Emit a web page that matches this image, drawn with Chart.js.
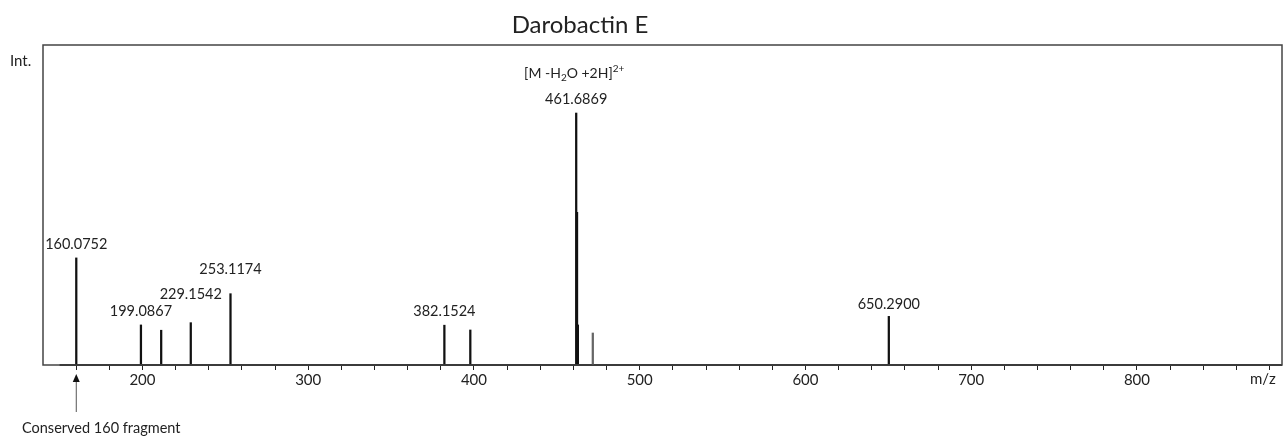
<!DOCTYPE html>
<html>
<head>
<meta charset="utf-8">
<title>Darobactin E</title>
<script src="https://cdn.jsdelivr.net/npm/chart.js@4/dist/chart.umd.min.js"></script>
<style>
    html, body { margin: 0; padding: 0; background: #fff; }
    #wrap { position: relative; width: 1287px; height: 436px; }
</style>
</head>
<body>
<div id="wrap"><canvas id="chart" width="1287" height="436"></canvas></div>
<script>
"use strict";

// MS/MS stick spectrum, intensities relative to the base peak
var peakMz = [160.0752, 199.0867, 211.3, 229.1542, 253.1174, 382.1524, 397.8, 461.6869, 462.19, 462.69, 471.7, 650.2900];
var peakInt = [42.5, 15.9, 13.8, 16.8, 28.3, 15.8, 13.9, 100, 60.6, 15.9, 12.7, 19.3];
var labelledMz = [160.0752, 199.0867, 229.1542, 253.1174, 382.1524, 461.6869, 650.2900];
var baselineMz = [150, 887.5];
var xMin = 140;
var xMax = 887.5;
var yMax = 127;
var xTickLabels = [200, 300, 400, 500, 600, 700, 800];

var font = "Lato, 'Open Sans', sans-serif";
var textColor = "#222";

var points = peakMz.map(function(m, i) {
    return {x: m, y: peakInt[i]};
});

// extra lift for labels that would otherwise collide
var labelLift = {"229.1542": 24, "253.1174": 20, "650.2900": 7};

var annotations = {
    id: "annotations",
    afterDatasetsDraw: function(chart) {
        var ctx = chart.ctx;
        var area = chart.chartArea;
        var xs = chart.scales.x;
        var ys = chart.scales.y;

        ctx.save();
        // plot frame
        ctx.strokeStyle = "#444";
        ctx.lineWidth = 1.5;
        ctx.strokeRect(area.left, area.top, area.right - area.left, area.bottom - area.top);

        // peak labels
        ctx.fillStyle = textColor;
        ctx.font = "14.5px " + font;
        ctx.textAlign = "center";
        ctx.textBaseline = "alphabetic";
        labelledMz.forEach(function(m) {
            var i = peakMz.indexOf(m);
            var px = xs.getPixelForValue(m);
            var py = ys.getPixelForValue(peakInt[i]);
            var lift = labelLift[m.toFixed(4)] || 9;
            ctx.fillText(m.toFixed(4), px, py - lift);
        });

        // ion assignment above the base peak
        var bx = xs.getPixelForValue(461.6869) - 2;
        var by = ys.getPixelForValue(100) - 35;
        var parts = [
            {t: "[M -H", s: 14, dy: 0},
            {t: "2", s: 10, dy: 3},
            {t: "O +2H]", s: 14, dy: 0},
            {t: "2+", s: 10, dy: -6}
        ];
        var total = 0;
        parts.forEach(function(p) {
            ctx.font = p.s + "px " + font;
            p.w = ctx.measureText(p.t).width;
            total += p.w;
        });
        var cx = bx - total / 2;
        ctx.textAlign = "left";
        parts.forEach(function(p) {
            ctx.font = p.s + "px " + font;
            ctx.fillText(p.t, cx, by + p.dy);
            cx += p.w;
        });

        // title and axis names
        ctx.font = "24px " + font;
        ctx.textAlign = "center";
        ctx.fillText("Darobactin E", 580, 33);
        ctx.font = "15px " + font;
        ctx.textAlign = "left";
        ctx.fillText("Int.", 10, 66);
        ctx.fillText("m/z", 1250, 384);

        // arrow marking the 160 fragment
        var ax = xs.getPixelForValue(160.0752);
        ctx.strokeStyle = "#555";
        ctx.lineWidth = 1;
        ctx.beginPath();
        ctx.moveTo(ax, 412);
        ctx.lineTo(ax, 380);
        ctx.stroke();
        ctx.fillStyle = "#111";
        ctx.beginPath();
        ctx.moveTo(ax, 374);
        ctx.lineTo(ax - 3.5, 382);
        ctx.lineTo(ax + 3.5, 382);
        ctx.closePath();
        ctx.fill();
        ctx.fillStyle = textColor;
        ctx.font = "14.5px " + font;
        ctx.fillText("Conserved 160 fragment", 22, 433);
        ctx.restore();
    }
};

var ctx = document.getElementById("chart").getContext("2d");
var chart = new Chart(ctx, {
    type: "bar",
    data: {
        datasets: [{
            label: "peaks",
            data: points,
            backgroundColor: peakMz.map(function(m) { return m === 471.7 ? "#666" : "#111"; }),
            barThickness: 1.6,
            grouped: false
        }, {
            type: "line",
            label: "baseline",
            data: baselineMz.map(function(m) { return {x: m, y: 0}; }),
            borderColor: "#222",
            borderWidth: 2,
            pointRadius: 0,
            clip: false
        }]
    },
    options: {
        responsive: false,
        animation: false,
        layout: {padding: {top: 45, left: 43, right: 5, bottom: 0}},
        plugins: {
            legend: {display: false},
            tooltip: {enabled: false}
        },
        scales: {
            x: {
                type: "linear",
                min: xMin,
                max: xMax,
                offset: false,
                border: {display: false},
                grid: {offset: false, drawOnChartArea: false, tickLength: 5, color: "#222", lineWidth: 1},
                afterBuildTicks: function(scale) {
                    var t = [];
                    for (var v = 160; v <= xMax; v += 20) t.push({value: v});
                    scale.ticks = t;
                },
                ticks: {
                    autoSkip: false,
                    maxRotation: 0,
                    padding: 1,
                    color: textColor,
                    font: {family: font, size: 15},
                    callback: function(v) {
                        return xTickLabels.indexOf(v) >= 0 ? String(v) : "";
                    }
                },
                afterFit: function(scale) { scale.height = 71; }
            },
            y: {
                display: false,
                min: 0,
                max: yMax
            }
        }
    },
    plugins: [annotations]
});
</script>
</body>
</html>
